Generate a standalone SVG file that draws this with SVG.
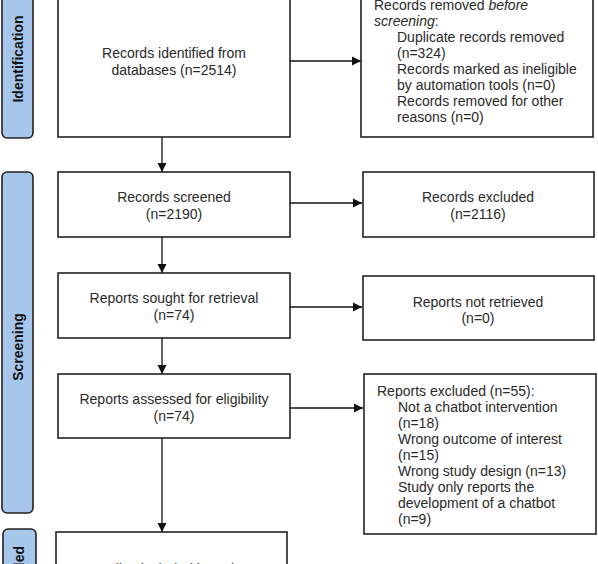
<svg xmlns="http://www.w3.org/2000/svg" width="598" height="564" viewBox="0 0 598 564">
<style>
.box{fill:#fff;stroke:#222;stroke-width:1.6}
.side{fill:#a6c6ec;stroke:#222;stroke-width:1.6}
.t{font-family:"Liberation Sans",Arial,sans-serif;font-size:14px;fill:#2a2a2a}
.c{text-anchor:middle}
.s{font-family:"Liberation Sans",Arial,sans-serif;font-size:14px;font-weight:bold;fill:#111;text-anchor:middle}
.ln{stroke:#111;stroke-width:1.3;fill:none}
</style>
<defs>
<marker id="ah" markerWidth="10" markerHeight="10" refX="9" refY="5" orient="auto" markerUnits="userSpaceOnUse">
<path d="M0,0.5 L9,5 L0,9.5 Z" fill="#111"/>
</marker>
</defs>
<rect width="598" height="564" fill="#fff"/>
<g id="side-identification">
<rect class="side" x="2" y="-12" width="31" height="150" rx="5"/>
<text class="s" transform="translate(23,59) rotate(-90)">Identification</text>
</g>
<g id="side-screening">
<rect class="side" x="2" y="172" width="31" height="341" rx="5"/>
<text class="s" transform="translate(23,347) rotate(-90)">Screening</text>
</g>
<g id="side-included">
<rect class="side" x="3" y="529" width="33" height="60" rx="5"/>
<text class="s" transform="translate(24,546) rotate(-90)" style="text-anchor:end">Included</text>
</g>
<g id="connectors">
<line class="ln" x1="290" y1="61" x2="361" y2="61" marker-end="url(#ah)"/>
<line class="ln" x1="162" y1="137" x2="162" y2="172" marker-end="url(#ah)"/>
<line class="ln" x1="290" y1="203" x2="362" y2="203" marker-end="url(#ah)"/>
<line class="ln" x1="162" y1="237" x2="162" y2="273" marker-end="url(#ah)"/>
<line class="ln" x1="290" y1="307" x2="362" y2="307" marker-end="url(#ah)"/>
<line class="ln" x1="162" y1="338" x2="162" y2="374" marker-end="url(#ah)"/>
<line class="ln" x1="290" y1="408" x2="363" y2="408" marker-end="url(#ah)"/>
<line class="ln" x1="162" y1="438" x2="162" y2="532" marker-end="url(#ah)"/>
</g>
<g id="identified">
<rect class="box" x="58" y="-12" width="232" height="149"/>
<text class="t c" x="174" y="58">Records identified from</text>
<text class="t c" x="174" y="75">databases (n=2514)</text>
</g>
<g id="removed">
<rect class="box" x="361" y="-12" width="232" height="149"/>
<text class="t" x="374" y="9.5">Records removed <tspan font-style="italic">before</tspan></text>
<text class="t" x="374" y="25.6"><tspan font-style="italic">screening</tspan>:</text>
<text class="t" x="397" y="41.7">Duplicate records removed</text>
<text class="t" x="397" y="57.8">(n=324)</text>
<text class="t" x="397" y="73.9">Records marked as ineligible</text>
<text class="t" x="397" y="90">by automation tools (n=0)</text>
<text class="t" x="397" y="106.1">Records removed for other</text>
<text class="t" x="397" y="122.2">reasons (n=0)</text>
</g>
<g id="screened">
<rect class="box" x="58" y="172" width="232" height="65"/>
<text class="t c" x="174" y="202">Records screened</text>
<text class="t c" x="174" y="219">(n=2190)</text>
</g>
<g id="excluded">
<rect class="box" x="363" y="172" width="231" height="65"/>
<text class="t c" x="478" y="202">Records excluded</text>
<text class="t c" x="478" y="219">(n=2116)</text>
</g>
<g id="sought">
<rect class="box" x="58" y="273" width="232" height="65"/>
<text class="t c" x="174" y="303">Reports sought for retrieval</text>
<text class="t c" x="174" y="320">(n=74)</text>
</g>
<g id="notretrieved">
<rect class="box" x="363" y="276" width="231" height="64"/>
<text class="t c" x="478" y="307">Reports not retrieved</text>
<text class="t c" x="478" y="323">(n=0)</text>
</g>
<g id="assessed">
<rect class="box" x="58" y="374" width="232" height="64"/>
<text class="t c" x="174" y="404">Reports assessed for eligibility</text>
<text class="t c" x="174" y="421">(n=74)</text>
</g>
<g id="reportsexcluded">
<rect class="box" x="364" y="374" width="232" height="160"/>
<text class="t" x="377" y="396">Reports excluded (n=55):</text>
<text class="t" x="398" y="412">Not a chatbot intervention</text>
<text class="t" x="398" y="428">(n=18)</text>
<text class="t" x="398" y="444">Wrong outcome of interest</text>
<text class="t" x="398" y="460">(n=15)</text>
<text class="t" x="398" y="476">Wrong study design (n=13)</text>
<text class="t" x="398" y="492">Study only reports the</text>
<text class="t" x="398" y="508">development of a chatbot</text>
<text class="t" x="398" y="524">(n=9)</text>
</g>
<g id="included">
<rect class="box" x="56" y="532" width="231" height="60"/>
<text class="t c" x="171" y="573.5">Studies included in review</text>
</g>
</svg>
